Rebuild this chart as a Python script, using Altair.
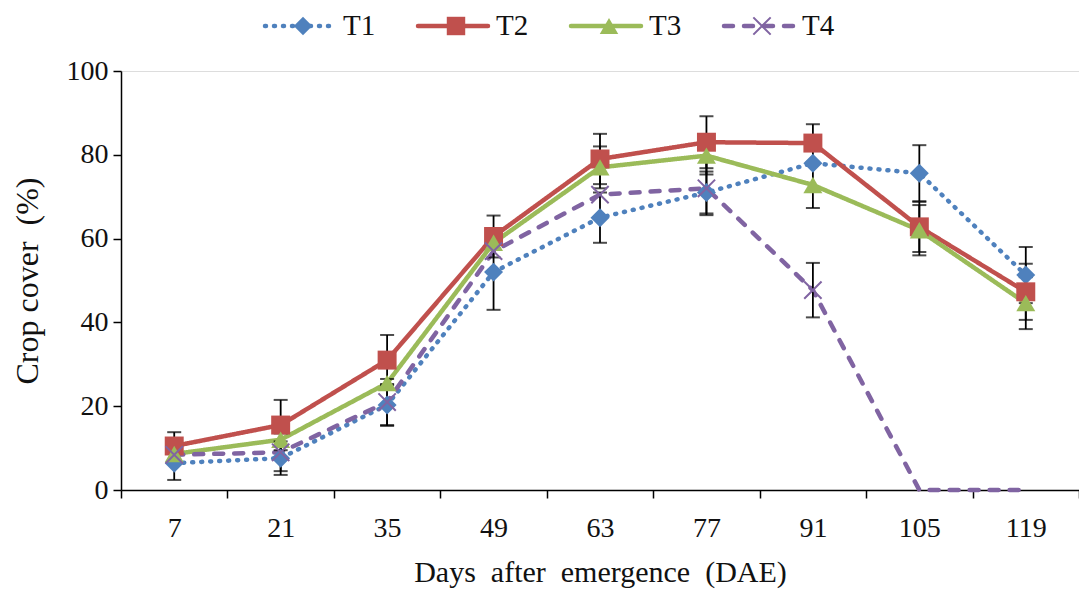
import altair as alt
import pandas as pd

days = [7, 21, 35, 49, 63, 77, 91, 105, 119]
series = ["T1", "T2", "T3", "T4"]
t1 = [6.4, 7.6, 20.3, 52.0, 65.0, 71.0, 78.0, 75.6, 51.3]
t2 = [10.5, 15.5, 31.0, 60.5, 79.0, 83.0, 82.8, 62.8, 47.3]
t3 = [8.6, 12.0, 25.5, 59.0, 77.0, 79.8, 72.8, 62.0, 44.6]
t4 = [8.4, 9.0, 21.0, 57.0, 70.5, 72.0, 47.7, 0.0, 0.0]
t1_err = [4.0, 4.0, 5.0, 9.0, 6.0, 5.0, None, 6.7, 6.7]
t2_err = [3.3, 6.0, 6.0, 5.0, 6.0, 6.2, 4.5, 6.0, 6.7]
t3_err = [None, None, None, None, 5.0, 4.5, 5.5, 6.0, 6.2]
t4_err = [None, 4.5, 5.5, None, None, 6.4, 6.5, None, None]

colors = ["#4F81BD", "#C0504D", "#9BBB59", "#8064A2"]
dashes = [[1, 8], [1, 0], [1, 0], [9, 11]]
shapes = ["diamond", "square", "triangle-up", "M-1,-1L1,1M-1,1L1,-1"]

vals = [t1, t2, t3, t4]
errs = [t1_err, t2_err, t3_err, t4_err]
rows = []
for s, v, e in zip(series, vals, errs):
    for d, y, er in zip(days, v, e):
        rows.append({"day": str(d), "series": s, "value": y, "err": er})
df = pd.DataFrame(rows)

FONT = "'Liberation Serif', 'Times New Roman', Times, 'DejaVu Serif', serif"
W, H = 958, 419

xenc = alt.X("day:N", sort=[str(d) for d in days],
             scale=alt.Scale(domain=[str(d) for d in days], paddingInner=0, paddingOuter=0),
             axis=alt.Axis(title="Days\u00a0 after\u00a0 emergence\u00a0 (DAE)", labelAngle=0, tickBand="extent",
                           domainColor="#000", domainWidth=1.5, tickColor="#000", tickWidth=1.5,
                           tickSize=8, labelFont=FONT, labelFontSize=28, labelColor="#111",
                           labelPadding=16, titleFont=FONT, titleFontSize=30, titleFontWeight="normal",
                           titleColor="#111", titleY=82, titleBaseline="middle"))
yenc = alt.Y("value:Q", scale=alt.Scale(domain=[0, 100], nice=False),
             axis=alt.Axis(title="Crop cover\u00a0 (%)", values=[0, 20, 40, 60, 80, 100], grid=False,
                           domainColor="#000", domainWidth=1.5, tickColor="#000", tickWidth=1.5,
                           tickSize=8, labelFont=FONT, labelFontSize=28, labelColor="#111",
                           labelPadding=5, titleFont=FONT, titleFontSize=32, titleFontWeight="normal",
                           titleColor="#111", titleX=-94, titleY=H / 2, titleAngle=-90,
                           titleAlign="center", titleBaseline="middle"))

color = alt.Color("series:N", scale=alt.Scale(domain=series, range=colors), legend=None)
dash = alt.StrokeDash("series:N", scale=alt.Scale(domain=series, range=dashes), legend=None)
shape = alt.Shape("series:N", scale=alt.Scale(domain=series, range=shapes), legend=None)

base = alt.Chart(df)
lines = base.mark_line(strokeWidth=4.5, strokeCap="round").encode(
    x=xenc, y=yenc, color=color, strokeDash=dash, detail="series:N")
pts = base.transform_filter("datum.series != 'T4'").mark_point(
    filled=True, size=360, opacity=1).encode(x=xenc, y="value:Q", color=color, shape=shape)
xpts = base.transform_filter("datum.series == 'T4' && datum.value > 0").mark_point(
    filled=False, size=300, strokeWidth=2, opacity=1).encode(x=xenc, y="value:Q", color=color, shape=shape)
ebase = base.transform_filter("isValid(datum.err)").transform_calculate(
    lo="datum.value - datum.err", hi="datum.value + datum.err")
erule = ebase.mark_rule(color="#000", strokeWidth=1.8).encode(x=xenc, y="lo:Q", y2="hi:Q")
ecap_lo = ebase.mark_tick(color="#000", size=14, thickness=2).encode(x=xenc, y="lo:Q")
ecap_hi = ebase.mark_tick(color="#000", size=14, thickness=2).encode(x=xenc, y="hi:Q")

main = alt.layer(lines, erule, ecap_lo, ecap_hi, pts, xpts)

# legend built from the series list
leg = pd.DataFrame({"series": series, "i": list(range(len(series)))})
lbase = alt.Chart(leg).transform_calculate(
    x0="144 + 153*datum.i", x1="144 + 153*datum.i + 70",
    xm="144 + 153*datum.i + 38", xt="144 + 153*datum.i + 78")
lx = alt.Scale(domain=[0, W], nice=False, zero=False)
ly = alt.value(-45)
lrule = lbase.mark_rule(strokeWidth=4.5, strokeCap="round").encode(
    x=alt.X("x0:Q", scale=lx, axis=None), x2="x1:Q", y=ly, color=color, strokeDash=dash)
lpts = lbase.transform_filter("datum.series != 'T4'").mark_point(filled=True, size=340, opacity=1).encode(
    x=alt.X("xm:Q", scale=lx, axis=None), y=ly, color=color, shape=shape)
lx4 = lbase.transform_filter("datum.series == 'T4'").mark_point(filled=False, size=300, strokeWidth=2, opacity=1).encode(
    x=alt.X("xm:Q", scale=lx, axis=None), y=ly, color=color, shape=shape)
ltext = lbase.mark_text(align="left", baseline="middle", font=FONT, fontSize=29, color="#111").encode(
    x=alt.X("xt:Q", scale=lx, axis=None), y=ly, text="series:N")
legend = alt.layer(lrule, lpts, lx4, ltext)

chart = alt.layer(main, legend).resolve_scale(x="independent").properties(
    width=W, height=H, autosize=alt.AutoSizeParams(type="none"),
    padding={"left": 113, "top": 63, "right": 0, "bottom": 100}
).configure_view(stroke=None).configure(background="white")

chart.save("out.html", embed_options={"renderer": "svg", "actions": False})
